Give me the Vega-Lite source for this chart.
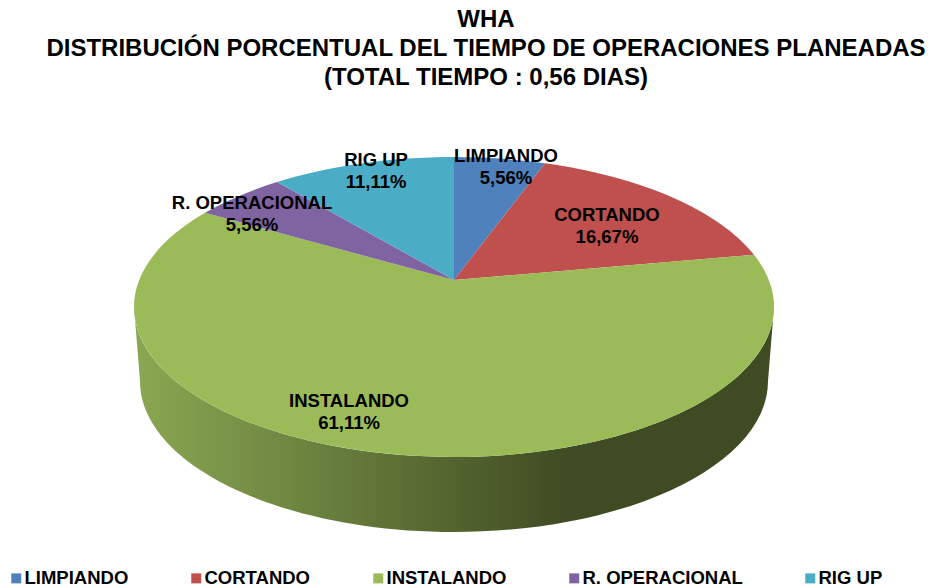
{
  "$schema": "https://vega.github.io/schema/vega-lite/v6.json",
  "width": 908,
  "height": 360,
  "autosize": {"type": "none"},
  "padding": {"left": 0, "top": 100, "right": 24, "bottom": 128},
  "background": "white",
  "title": {
    "text": ["WHA", "DISTRIBUCIÓN PORCENTUAL DEL TIEMPO DE OPERACIONES PLANEADAS", "(TOTAL TIEMPO : 0,56 DIAS)"],
    "anchor": "middle",
    "dx": 32,
    "dy": 4,
    "offset": 14,
    "font": "Liberation Sans",
    "fontSize": 24,
    "fontWeight": "bold",
    "lineHeight": 29,
    "color": "black"
  },
  "config": {"view": {"stroke": null}},
  "data": {"values": [
    {"idx": 1, "categoria": "LIMPIANDO", "valor": 5.56, "etiqueta": "LIMPIANDO\n5,56%"},
    {"idx": 2, "categoria": "CORTANDO", "valor": 16.67, "etiqueta": "CORTANDO\n16,67%"},
    {"idx": 3, "categoria": "INSTALANDO", "valor": 61.11, "etiqueta": "INSTALANDO\n61,11%"},
    {"idx": 4, "categoria": "R. OPERACIONAL", "valor": 5.56, "etiqueta": "R. OPERACIONAL\n5,56%"},
    {"idx": 5, "categoria": "RIG UP", "valor": 11.11, "etiqueta": "RIG UP\n11,11%"}
  ]},
  "layer": [
    {
      "data": {"values": [{"parte": "pared"}]},
      "mark": {
        "type": "point",
        "filled": true,
        "opacity": 1,
        "size": 4,
        "shape": "M320 27 A320 150 0 0 1 -320 27 L-314 101 A314 151 0 0 0 314 101 Z",
        "fill": {
          "x1": 0, "y1": 0, "x2": 1, "y2": 0,
          "gradient": "linear",
          "stops": [
            {"offset": 0, "color": "#8aa852"},
            {"offset": 0.68, "color": "#3f4b22"},
            {"offset": 1, "color": "#3f4b22"}
          ]
        }
      },
      "encoding": {}
    },
    {
      "mark": {"type": "point", "filled": true, "opacity": 1, "size": 4},
      "encoding": {
        "color": {
          "field": "categoria",
          "type": "nominal",
          "scale": {
            "domain": ["LIMPIANDO", "CORTANDO", "INSTALANDO", "R. OPERACIONAL", "RIG UP"],
            "range": ["#4f81bd", "#c0504d", "#9bbb59", "#8064a2", "#4bacc6"]
          },
          "legend": {
            "title": null,
            "orient": "none",
            "legendX": 7,
            "legendY": 469,
            "direction": "horizontal",
            "columns": 5,
            "gridAlign": "each",
            "columnPadding": 58,
            "padding": 0,
            "symbolType": "square",
            "symbolSize": 100,
            "symbolOpacity": 1,
            "labelFont": "Liberation Sans",
            "labelFontSize": 18.5,
            "labelFontWeight": "bold",
            "labelColor": "black",
            "labelOffset": -1,
            "labelLimit": 300,
            "encode": {"symbols": {"update": {"shape": {"value": "square"}, "size": {"value": 100}}}}
          }
        },
        "shape": {
          "field": "idx",
          "type": "nominal",
          "legend": null,
          "scale": {
            "domain": [1, 2, 3, 4, 5],
            "range": [
              "M0 0 L0 -123 A320 150 0 0 1 91 -116.8 Z",
              "M0 0 L91 -116.8 A320 150 0 0 1 300 -25.2 Z",
              "M0 0 L300 -25.2 A320 150 0 1 1 -249 -67.2 Z",
              "M0 0 L-249 -67.2 A320 150 0 0 1 -177 -98 Z",
              "M0 0 L-177 -98 A320 150 0 0 1 0 -123 Z"
            ]
          }
        }
      }
    },
    {
      "transform": [{"stack": "valor", "sort": [{"field": "idx", "order": "ascending"}], "as": ["inicio", "fin"]}],
      "mark": {
        "type": "text",
        "font": "Liberation Sans",
        "fontSize": 18.5,
        "fontWeight": "bold",
        "color": "black",
        "lineBreak": "\n",
        "lineHeight": 22,
        "align": "center",
        "baseline": "middle"
      },
      "encoding": {
        "text": {"field": "etiqueta", "type": "nominal"},
        "theta": {
          "field": "inicio",
          "type": "quantitative",
          "stack": false,
          "scale": {
            "domain": [0, 5.56, 22.23, 83.34, 88.9],
            "range": [0.397, 1.169, 3.856, 5.077, 5.707]
          }
        },
        "radius": {
          "field": "idx",
          "type": "quantitative",
          "stack": false,
          "scale": {
            "domain": [1, 2, 3, 4, 5],
            "range": [134.5, 166.2, 160.2, 216.2, 143.1]
          }
        }
      }
    }
  ]
}
